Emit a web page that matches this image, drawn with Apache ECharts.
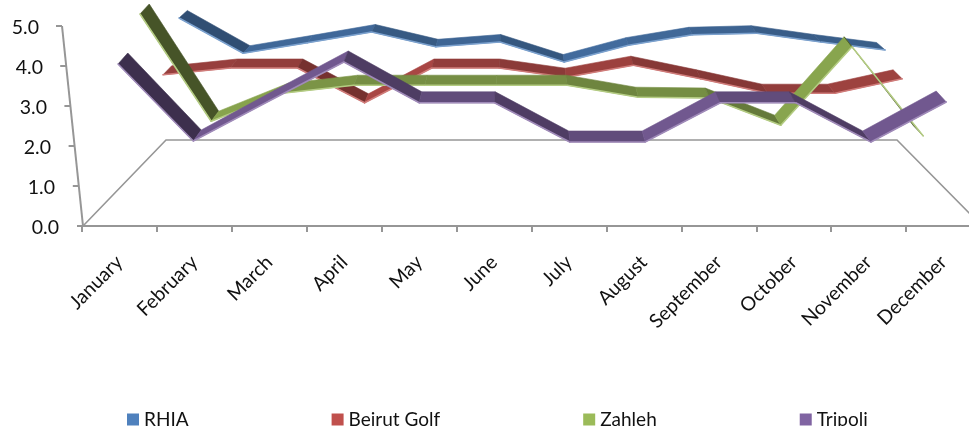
<!DOCTYPE html>
<html><head><meta charset="utf-8">
<style>html,body{margin:0;padding:0;background:#fff}#c{width:969px;height:426px}</style>
<script src="https://cdn.jsdelivr.net/npm/echarts@6/dist/echarts.min.js"></script></head>
<body><div id="c"></div>
<script>
const categories = ['January','February','March','April','May','June','July','August','September','October','November','December'];
const yTicks = [0,1,2,3,4,5];
const rhia    = [5.2,4.32,4.58,4.85,4.48,4.6,4.1,4.52,4.78,4.82,4.6,4.4];
const beirut  = [3.78,3.95,3.95,3.08,3.95,3.95,3.72,4.02,3.68,3.32,3.32,3.68];
const zahleh  = [5.3,2.62,3.32,3.52,3.52,3.52,3.52,3.22,3.2,2.52,4.48,2.25];
const tripoli = [4.05,2.125,3.12,4.1,3.08,3.08,2.1,2.1,3.08,3.08,2.1,3.1];

const FONT = 'Lato';
const GREY = '#969696';
const TOP = 26, H = 200;
const layers = [
 {name:'RHIA',       data:rhia,    color:'#4F81BD', first:179, band:64.2, depth:7.5},
 {name:'Beirut Golf',data:beirut,  color:'#C0504D', first:163, band:67.2, depth:9},
 {name:'Zahleh',     data:zahleh,  color:'#9BBB59', first:140, band:71.2, depth:10},
 {name:'Tripoli',    data:tripoli, color:'#8064A2', first:118, band:75.3, depth:11}
];
function shade(hex,f){
  const n=parseInt(hex.slice(1),16);
  const c=[n>>16&255,n>>8&255,n&255].map(v=>Math.round(f>1? v+(255-v)*(f-1): v*f));
  return 'rgb('+c.join(',')+')';
}
function ribbon(layer){
  return function(params,api){
    const i=api.value(0);
    if(i>=categories.length-1) return null;
    const a=api.coord([i,api.value(1)]);
    const b=api.coord([i+1,layer.data[i+1]]);
    const dx=x=>(525-x)*0.024;
    const d=layer.depth;
    const s=(b[1]-a[1])/(b[0]-a[0]);
    const f=Math.max(0.45,Math.min(0.88,0.76-0.28*s));
    const col=shade(layer.color,f);
    return {type:'group',children:[
      {type:'polygon',shape:{points:[a,b,[b[0]+dx(b[0]),b[1]-d],[a[0]+dx(a[0]),a[1]-d]]},
       style:{fill:col,stroke:col,lineWidth:0.6}},
      {type:'line',shape:{x1:a[0],y1:a[1],x2:b[0],y2:b[1]},
       style:{stroke:shade(layer.color,1.25),lineWidth:1.6,lineCap:'round'}}
    ]};
  };
}
const grids=[{left:82,width:899,top:TOP,height:H,outerBoundsMode:'none'}];
const xAxes=[{type:'category',gridIndex:0,data:categories,boundaryGap:true,
  axisLine:{lineStyle:{color:GREY,width:2}},
  axisTick:{show:true,length:6,lineStyle:{color:GREY,width:2}},
  axisLabel:{rotate:45,interval:0,margin:33,color:'#111',fontFamily:FONT,fontSize:19.5}}];
const yAxes=[{type:'value',gridIndex:0,min:0,max:5,interval:1,
  axisLine:{show:false},axisTick:{show:false},splitLine:{show:false},
  axisLabel:{margin:23,color:'#111',fontFamily:FONT,fontSize:19.5,
    formatter:v=>'{p'+v+'|'+v.toFixed(1)+'}',
    rich:Object.fromEntries(yTicks.map(v=>['p'+v,{padding:[3,v*4,0,0],fontFamily:FONT,fontSize:19.5,color:'#111'}]))}}];
const series=[];
layers.forEach((l,k)=>{
  const g=k+1;
  grids.push({left:l.first-l.band/2,width:l.band*12,top:TOP,height:H,outerBoundsMode:'none'});
  xAxes.push({type:'category',gridIndex:g,data:categories,show:false});
  yAxes.push({type:'value',gridIndex:g,min:0,max:5,show:false});
  series.push({type:'custom',name:l.name,xAxisIndex:g,yAxisIndex:g,clip:false,z:3+k,
    itemStyle:{color:l.color},
    encode:{x:0,y:1},
    data:l.data.map((v,i)=>[i,v]),
    renderItem:ribbon(l)});
});
const chart=echarts.init(document.getElementById('c'),null,{renderer:'canvas'});
chart.setOption({
  animation:false,backgroundColor:'#fff',
  grid:grids,xAxis:xAxes,yAxis:yAxes,series,
  legend:{left:122,top:405,itemWidth:12,itemHeight:12,itemGap:143,icon:'rect',
    data:layers.map(l=>l.name),
    textStyle:{fontFamily:FONT,fontSize:19,color:'#111'}}
});
const py=v=>chart.convertToPixel({yAxisIndex:0},v);
const ax=v=>83-4.2*v;
const frame=[
 {type:'polyline',z:1,shape:{points:[[83,py(0)],[166,140],[897,140],[972,216]]},style:{fill:'none',stroke:GREY,lineWidth:1.6}},
 {type:'line',z:1,shape:{x1:ax(0),y1:py(0),x2:ax(5),y2:py(5)},style:{stroke:GREY,lineWidth:2}}
];
yTicks.forEach(v=>frame.push({type:'line',z:1,shape:{x1:ax(v)-6,y1:py(v),x2:ax(v),y2:py(v)},style:{stroke:GREY,lineWidth:2}}));
chart.setOption({graphic:{elements:frame}});
</script></body></html>
